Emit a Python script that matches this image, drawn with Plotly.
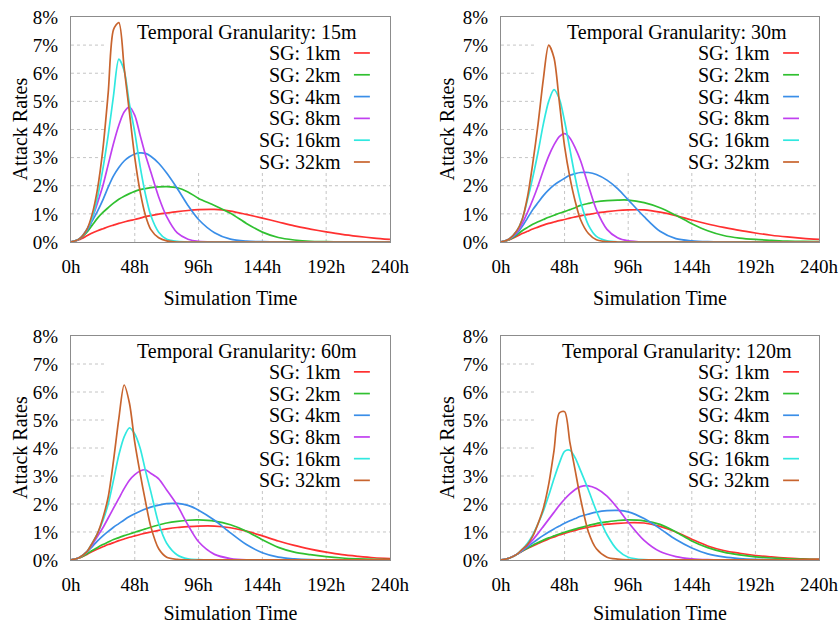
import plotly.graph_objects as go

HOURS = [0, 6, 12, 16, 20, 24, 28, 32, 36, 40, 44, 48, 52, 56, 60, 66, 72, 80, 88, 96,
         108, 120, 132, 144, 156, 168, 180, 192, 204, 216, 228, 240]

SG_NAMES = ["SG: 1km", "SG: 2km", "SG: 4km", "SG: 8km", "SG: 16km", "SG: 32km"]
SG_COLORS = ["#ff3030", "#30c030", "#3a8ee8", "#c040f0", "#30e8e0", "#c8642e"]
TG_LABELS = ["15m", "30m", "60m", "120m"]

X_TICKS = [0, 48, 96, 144, 192, 240]
Y_TICKS = [0, 1, 2, 3, 4, 5, 6, 7, 8]

# attack rate (%) -- temporal granularity 15m
TG15_SG1 = [0, 0.08, 0.22, 0.32, 0.40, 0.47, 0.54, 0.60, 0.66, 0.71, 0.76, 0.80, 0.85, 0.90, 0.94, 0.99,
            1.03, 1.08, 1.12, 1.15, 1.16, 1.10, 0.98, 0.85, 0.71, 0.57, 0.46, 0.36, 0.27, 0.20, 0.14, 0.09]
TG15_SG2 = [0, 0.10, 0.35, 0.60, 0.85, 1.05, 1.22, 1.38, 1.52, 1.63, 1.72, 1.80, 1.86, 1.90, 1.93, 1.96,
            1.97, 1.93, 1.78, 1.55, 1.30, 1.02, 0.66, 0.35, 0.16, 0.07, 0.02, 0.01, 0, 0, 0, 0]
TG15_SG4 = [0, 0.10, 0.40, 0.75, 1.10, 1.50, 1.95, 2.35, 2.65, 2.88, 3.03, 3.13, 3.17, 3.15, 3.05, 2.80,
            2.45, 1.90, 1.30, 0.80, 0.33, 0.10, 0.03, 0.01, 0, 0, 0, 0, 0, 0, 0, 0]
TG15_SG8 = [0, 0.10, 0.45, 0.85, 1.40, 2.00, 2.75, 3.50, 4.15, 4.62, 4.80, 4.50, 3.80, 3.10, 2.50, 1.60,
            0.90, 0.32, 0.10, 0.02, 0, 0, 0, 0, 0, 0, 0, 0, 0, 0, 0, 0]
TG15_SG16 = [0, 0.10, 0.45, 0.85, 1.60, 2.60, 3.80, 5.20, 6.50, 6.10, 4.90, 3.90, 2.70, 1.70, 0.95, 0.35,
             0.10, 0.02, 0, 0, 0, 0, 0, 0, 0, 0, 0, 0, 0, 0, 0, 0]
TG15_SG32 = [0, 0.10, 0.45, 1.00, 1.90, 3.30, 5.30, 7.55, 7.80, 6.20, 4.60, 3.00, 1.80, 0.95, 0.45, 0.15,
             0.04, 0, 0, 0, 0, 0, 0, 0, 0, 0, 0, 0, 0, 0, 0, 0]

# attack rate (%) -- temporal granularity 30m
TG30_SG1 = [0, 0.07, 0.20, 0.30, 0.38, 0.46, 0.53, 0.60, 0.66, 0.71, 0.76, 0.80, 0.85, 0.89, 0.93, 0.98,
            1.03, 1.08, 1.12, 1.14, 1.14, 1.06, 0.94, 0.78, 0.64, 0.52, 0.41, 0.32, 0.24, 0.18, 0.13, 0.09]
TG30_SG2 = [0, 0.08, 0.25, 0.40, 0.52, 0.63, 0.72, 0.80, 0.88, 0.95, 1.02, 1.08, 1.15, 1.22, 1.30, 1.37,
            1.43, 1.47, 1.49, 1.49, 1.40, 1.22, 0.95, 0.65, 0.40, 0.23, 0.14, 0.09, 0.06, 0.03, 0.02, 0.01]
TG30_SG4 = [0, 0.10, 0.30, 0.55, 0.85, 1.15, 1.40, 1.65, 1.85, 2.02, 2.15, 2.27, 2.37, 2.43, 2.47, 2.47,
            2.40, 2.20, 1.90, 1.50, 0.90, 0.38, 0.12, 0.04, 0.01, 0, 0, 0, 0, 0, 0, 0]
TG30_SG8 = [0, 0.10, 0.35, 0.65, 1.05, 1.50, 2.00, 2.55, 3.05, 3.45, 3.75, 3.85, 3.70, 3.35, 2.90, 2.00,
            1.15, 0.45, 0.15, 0.04, 0, 0, 0, 0, 0, 0, 0, 0, 0, 0, 0, 0]
TG30_SG16 = [0, 0.10, 0.40, 0.80, 1.50, 2.30, 3.20, 4.20, 5.00, 5.42, 5.10, 4.30, 3.30, 2.30, 1.45, 0.60,
             0.20, 0.04, 0, 0, 0, 0, 0, 0, 0, 0, 0, 0, 0, 0, 0, 0]
TG30_SG32 = [0, 0.10, 0.40, 0.80, 1.60, 2.80, 4.20, 5.80, 7.00, 6.55, 5.00, 3.40, 2.30, 1.45, 0.80, 0.30,
             0.08, 0.01, 0, 0, 0, 0, 0, 0, 0, 0, 0, 0, 0, 0, 0, 0]

# attack rate (%) -- temporal granularity 60m
TG60_SG1 = [0, 0.07, 0.20, 0.30, 0.39, 0.47, 0.55, 0.62, 0.69, 0.75, 0.81, 0.86, 0.91, 0.96, 1.00, 1.06,
            1.11, 1.16, 1.19, 1.21, 1.21, 1.15, 1.03, 0.86, 0.68, 0.52, 0.39, 0.28, 0.19, 0.13, 0.08, 0.05]
TG60_SG2 = [0, 0.07, 0.22, 0.34, 0.45, 0.55, 0.64, 0.73, 0.80, 0.87, 0.93, 0.99, 1.05, 1.11, 1.17, 1.25,
            1.32, 1.38, 1.42, 1.43, 1.39, 1.26, 1.03, 0.72, 0.45, 0.28, 0.19, 0.12, 0.07, 0.04, 0.02, 0.01]
TG60_SG4 = [0, 0.08, 0.28, 0.48, 0.68, 0.86, 1.02, 1.17, 1.30, 1.43, 1.55, 1.65, 1.74, 1.82, 1.89, 1.96,
            2.01, 2.02, 1.95, 1.78, 1.42, 0.97, 0.55, 0.26, 0.10, 0.04, 0.01, 0, 0, 0, 0, 0]
TG60_SG8 = [0, 0.08, 0.30, 0.55, 0.85, 1.15, 1.50, 1.85, 2.20, 2.55, 2.85, 3.05, 3.18, 3.22, 3.10, 2.90,
            2.50, 1.95, 1.25, 0.65, 0.20, 0.05, 0, 0, 0, 0, 0, 0, 0, 0, 0, 0]
TG60_SG16 = [0, 0.08, 0.30, 0.60, 0.95, 1.40, 2.00, 2.85, 3.75, 4.40, 4.72, 4.50, 4.00, 3.20, 2.45, 1.30,
             0.60, 0.18, 0.04, 0.01, 0, 0, 0, 0, 0, 0, 0, 0, 0, 0, 0, 0]
TG60_SG32 = [0, 0.08, 0.30, 0.60, 0.95, 1.50, 2.25, 3.55, 5.05, 6.25, 5.60, 4.20, 3.10, 2.10, 1.20, 0.40,
             0.10, 0.02, 0, 0, 0, 0, 0, 0, 0, 0, 0, 0, 0, 0, 0, 0]

# attack rate (%) -- temporal granularity 120m
TG120_SG1 = [0, 0.06, 0.20, 0.31, 0.41, 0.50, 0.59, 0.67, 0.75, 0.82, 0.89, 0.95, 1.01, 1.06, 1.11, 1.17,
             1.23, 1.28, 1.31, 1.33, 1.32, 1.20, 1.00, 0.74, 0.50, 0.34, 0.24, 0.16, 0.11, 0.07, 0.04, 0.03]
TG120_SG2 = [0, 0.06, 0.20, 0.32, 0.43, 0.53, 0.62, 0.71, 0.79, 0.86, 0.93, 0.99, 1.05, 1.10, 1.16, 1.23,
             1.30, 1.36, 1.41, 1.43, 1.40, 1.27, 1.00, 0.68, 0.44, 0.28, 0.18, 0.11, 0.07, 0.04, 0.02, 0.01]
TG120_SG4 = [0, 0.06, 0.20, 0.33, 0.47, 0.61, 0.75, 0.88, 1.00, 1.11, 1.21, 1.31, 1.40, 1.48, 1.56, 1.64,
             1.71, 1.76, 1.77, 1.72, 1.48, 1.12, 0.73, 0.43, 0.22, 0.11, 0.05, 0.02, 0.01, 0, 0, 0]
TG120_SG8 = [0, 0.06, 0.20, 0.35, 0.52, 0.72, 0.95, 1.20, 1.45, 1.70, 1.95, 2.17, 2.36, 2.52, 2.62, 2.65,
             2.55, 2.28, 1.85, 1.35, 0.70, 0.30, 0.12, 0.04, 0.01, 0, 0, 0, 0, 0, 0, 0]
TG120_SG16 = [0, 0.06, 0.20, 0.38, 0.60, 0.90, 1.30, 1.75, 2.30, 2.90, 3.45, 3.88, 3.92, 3.65, 3.20, 2.50,
              1.75, 0.90, 0.35, 0.10, 0.01, 0, 0, 0, 0, 0, 0, 0, 0, 0, 0, 0]
TG120_SG32 = [0, 0.06, 0.20, 0.38, 0.55, 0.85, 1.30, 1.85, 2.70, 3.90, 5.25, 5.30, 4.20, 3.20, 2.20, 1.00,
              0.40, 0.10, 0.03, 0, 0, 0, 0, 0, 0, 0, 0, 0, 0, 0, 0, 0]

PANELS = [
    [TG15_SG1, TG15_SG2, TG15_SG4, TG15_SG8, TG15_SG16, TG15_SG32],
    [TG30_SG1, TG30_SG2, TG30_SG4, TG30_SG8, TG30_SG16, TG30_SG32],
    [TG60_SG1, TG60_SG2, TG60_SG4, TG60_SG8, TG60_SG16, TG60_SG32],
    [TG120_SG1, TG120_SG2, TG120_SG4, TG120_SG8, TG120_SG16, TG120_SG32],
]

FONT = "Liberation Serif"
KEY_LEFT_H = 27      # key box (hides the grid) starts at this hour ...
KEY_BOTTOM = 2.5     # ... and reaches down to this attack rate

W, H = 839, 624
x_domains = [[0.0846, 0.4648], [0.5971, 0.9762]]
y_domains = [[0.6122, 0.9728], [0.1026, 0.4615]]
ytitle_x = [20 / W, 447 / W]

fig = go.Figure()
layout = {}
annotations = []
shapes = []
grid_line = dict(color="#c4c4c4", width=1, dash="dot")

for i, series in enumerate(PANELS):
    n = i + 1
    xa = "x" if n == 1 else f"x{n}"
    ya = "y" if n == 1 else f"y{n}"
    col, row = i % 2, i // 2

    for name, color, vals in zip(SG_NAMES, SG_COLORS, series):
        fig.add_trace(go.Scatter(
            x=HOURS, y=vals, xaxis=xa, yaxis=ya, mode="lines", name=name,
            line=dict(color=color, width=1.7, shape="spline", smoothing=0.8),
            showlegend=False,
        ))

    axis_common = dict(
        showline=True, mirror=True, linecolor="#8c8c8c", linewidth=1,
        showgrid=False, zeroline=False, ticks="", automargin=False,
        ticklabeloverflow="allow",
        tickfont=dict(family=FONT, size=19, color="black"),
    )
    layout[f"xaxis{n if n > 1 else ''}"] = dict(
        axis_common, domain=x_domains[col], anchor=ya, range=[0, 240],
        tickvals=X_TICKS, ticktext=[f"{t}h" for t in X_TICKS], ticklabelstandoff=7,
        title=dict(text="Simulation Time", font=dict(family=FONT, size=20, color="black"), standoff=15),
    )
    layout[f"yaxis{n if n > 1 else ''}"] = dict(
        axis_common, domain=y_domains[row], anchor=xa, range=[0, 8],
        tickvals=Y_TICKS, ticktext=[f"{t}%" for t in Y_TICKS], ticklabelstandoff=8,
    )
    annotations.append(dict(xref="paper", yref="paper", x=ytitle_x[col], y=sum(y_domains[row]) / 2,
                            text="Attack Rates", textangle=-90, showarrow=False,
                            font=dict(family=FONT, size=20, color="black"),
                            xanchor="center", yanchor="middle"))

    # dotted grid, left out where the key box sits
    for t in Y_TICKS[1:-1]:
        x_end = 240 if t < KEY_BOTTOM else KEY_LEFT_H
        shapes.append(dict(type="line", xref=xa, yref=ya, x0=0, x1=x_end, y0=t, y1=t,
                           line=grid_line, layer="below"))
    for t in X_TICKS[1:-1]:
        y_end = 8 if t < KEY_LEFT_H else KEY_BOTTOM
        shapes.append(dict(type="line", xref=xa, yref=ya, x0=t, x1=t, y0=0, y1=y_end,
                           line=grid_line, layer="below"))

    xd, yd = f"{xa} domain", f"{ya} domain"
    annotations.append(dict(xref=xd, yref=yd, x=0.552, y=0.933, showarrow=False,
                            text=f"Temporal Granularity: {TG_LABELS[i]}",
                            font=dict(family=FONT, size=20, color="black"),
                            xanchor="center", yanchor="middle"))
    for k, (name, color) in enumerate(zip(SG_NAMES, SG_COLORS)):
        yk = 0.84 - k * 0.0969
        annotations.append(dict(xref=xd, yref=yd, x=0.853, y=yk, showarrow=False, text=name,
                                font=dict(family=FONT, size=20, color="black"),
                                xanchor="right", yanchor="middle"))
        shapes.append(dict(type="line", xref=xd, yref=yd, x0=0.887, x1=0.937, y0=yk, y1=yk,
                           line=dict(color=color, width=1.7)))

fig.update_layout(
    **layout,
    width=W, height=H,
    margin=dict(l=0, r=0, t=0, b=0),
    paper_bgcolor="white", plot_bgcolor="white",
    annotations=annotations, shapes=shapes,
    showlegend=False,
)

# drop the page's default body margin so the figure fills the window exactly
fig.write_html("out.html", config={"displayModeBar": False},
               post_script="document.body.style.margin = '0';")
